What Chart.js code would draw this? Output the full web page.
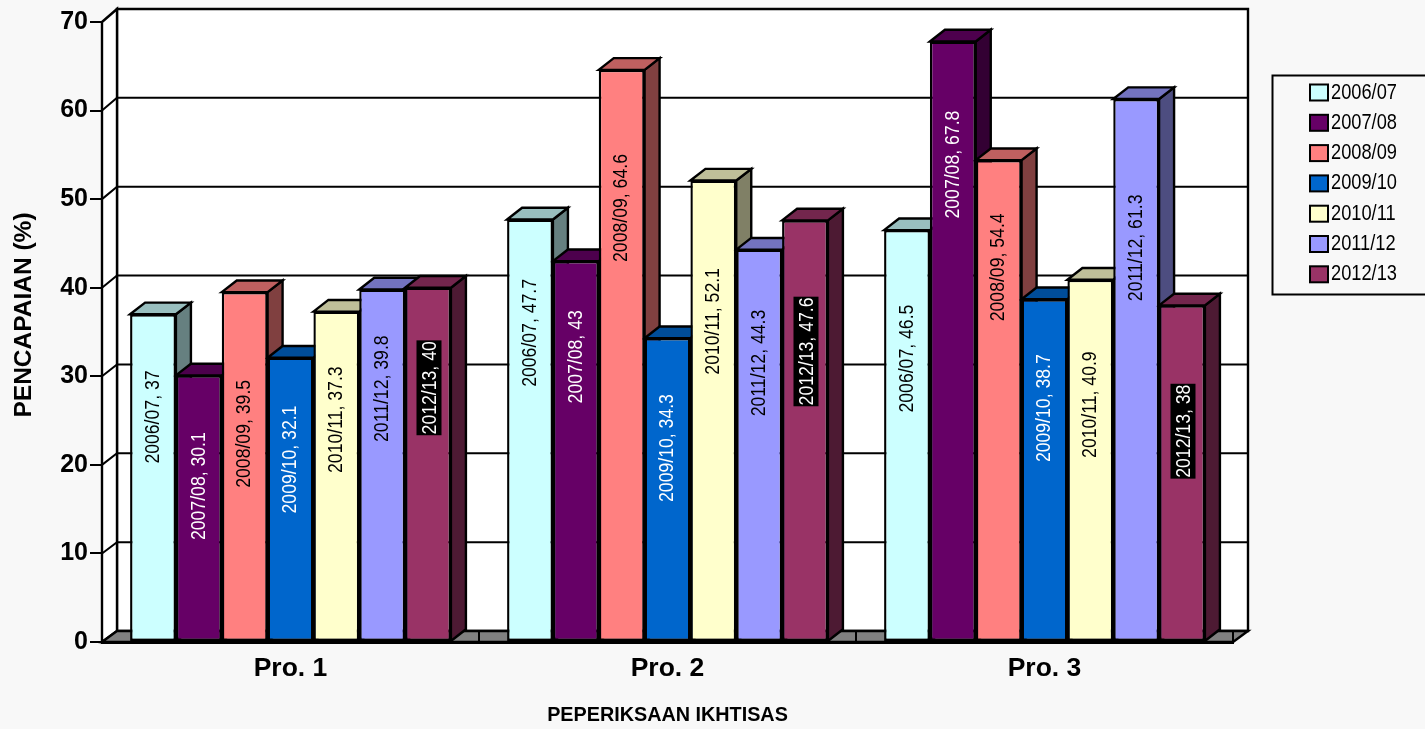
<!DOCTYPE html>
<html>
<head>
<meta charset="utf-8">
<style>
  html, body { margin: 0; padding: 0; background: #F8F8F8; overflow: hidden; }
  canvas { display: block; }
</style>
<script src="https://cdn.jsdelivr.net/npm/chart.js@4"></script>
</head>
<body>
<canvas id="chart" width="1425" height="729"></canvas>
<script>
const categories = ['Pro. 1', 'Pro. 2', 'Pro. 3'];
const seriesNames = ['2006/07', '2007/08', '2008/09', '2009/10', '2010/11', '2011/12', '2012/13'];

const v200607 = [37, 47.7, 46.5];
const v200708 = [30.1, 43, 67.8];
const v200809 = [39.5, 64.6, 54.4];
const v200910 = [32.1, 34.3, 38.7];
const v201011 = [37.3, 52.1, 40.9];
const v201112 = [39.8, 44.3, 61.3];
const v201213 = [40, 47.6, 38];
const seriesValues = [v200607, v200708, v200809, v200910, v201011, v201112, v201213];

const seriesColors = ['#CCFFFF', '#660066', '#FF8080', '#0066CC', '#FFFFCC', '#9999FF', '#993366'];
const labelColors = ['#000', '#fff', '#000', '#fff', '#000', '#000', '#fff'];
const labelBacks = [null, null, null, null, null, null, '#000'];

// Height on the value axis where each rotated data label is centred.
const labelHeights = [
  [25.4, 34.9, 32.0],
  [17.6, 32.2, 53.9],
  [23.5, 49.0, 42.3],
  [20.6, 21.9, 26.4],
  [25.1, 36.2, 26.8],
  [28.6, 31.5, 44.5],
  [28.7, 32.8, 23.8]
];

const depthX = 15;
const depthY = 11.7;
const SANS = '"Liberation Sans", Arial, sans-serif';
const NARROW_SCALE = 0.84;

function shade(hex, k) {
  const n = parseInt(hex.slice(1), 16);
  const c = s => Math.round(((n >> s) & 255) * k);
  return `rgb(${c(16)},${c(8)},${c(0)})`;
}

function poly(ctx, pts, fill) {
  ctx.beginPath();
  pts.forEach((p, i) => i ? ctx.lineTo(p[0], p[1]) : ctx.moveTo(p[0], p[1]));
  ctx.closePath();
  if (fill) { ctx.fillStyle = fill; ctx.fill(); }
  ctx.strokeStyle = '#000';
  ctx.lineWidth = 2.4;
  ctx.lineJoin = 'miter';
  ctx.stroke();
}

function barBox(bar) {
  const p = bar.getProps(['x', 'y', 'base', 'width'], true);
  return { l: p.x - p.width / 2, r: p.x + p.width / 2, y: p.y, base: p.base };
}

// Back wall, side wall, floor, gridlines, then the bars' side and top faces.
const wallsPlugin = {
  id: 'walls',
  beforeDatasetsDraw(chart) {
    const { ctx, chartArea: a, scales: { y, x } } = chart;
    ctx.save();
    const top = y.getPixelForValue(70), zero = y.getPixelForValue(0);
    poly(ctx, [[a.left + depthX, top - 13], [a.right + depthX, top - 13], [a.right + depthX, zero - 11], [a.left + depthX, zero - 11]], '#fff');
    poly(ctx, [[a.left, top], [a.left + depthX, top - 13], [a.left + depthX, zero - 11], [a.left, zero]], '#fff');
    poly(ctx, [[a.left, zero], [a.left + depthX, zero - 11], [a.right + depthX, zero - 11], [a.right, zero]], '#808080');
    ctx.lineWidth = 2;
    ctx.strokeStyle = '#000';
    y.ticks.forEach(t => {
      if (t.value === 0 || t.value === 70) return;
      const py = y.getPixelForValue(t.value);
      const back = py - 11 - 2 * t.value / 70;
      ctx.beginPath();
      ctx.moveTo(a.left, py);
      ctx.lineTo(a.left + depthX, back);
      ctx.lineTo(a.right + depthX, back);
      ctx.stroke();
    });
    // Category dividers on the floor.
    for (let i = 1; i <= categories.length; i++) {
      const px = x.getPixelForValue(i - 0.5);
      ctx.beginPath();
      ctx.moveTo(px, zero);
      ctx.lineTo(px, zero - 11);
      ctx.stroke();
    }

    // All side faces first, then all tops: a top sits over its left neighbour's side.
    const metas = seriesNames.map((_, i) => chart.getDatasetMeta(i));
    metas.forEach((meta, i) => meta.data.forEach(bar => {
      const b = barBox(bar);
      poly(ctx, [[b.r, b.y], [b.r + depthX, b.y - depthY], [b.r + depthX, b.base - depthY], [b.r, b.base]], shade(seriesColors[i], 0.5));
    }));
    metas.forEach((meta, i) => meta.data.forEach(bar => {
      const b = barBox(bar);
      poly(ctx, [[b.l, b.y], [b.l + depthX, b.y - depthY], [b.r + depthX, b.y - depthY], [b.r, b.y]], shade(seriesColors[i], 0.75));
    }));
    ctx.restore();
  }
};

// Rotated "series, value" labels, plus the axis caption and legend panel.
const labelsPlugin = {
  id: 'annotations',
  afterDatasetsDraw(chart) {
    const { ctx, scales: { y } } = chart;
    ctx.save();
    ctx.font = `21px ${SANS}`;
    ctx.textAlign = 'center';
    ctx.textBaseline = 'middle';
    chart.data.datasets.forEach((ds, i) => {
      chart.getDatasetMeta(i).data.forEach((bar, j) => {
        const text = `${ds.label}, ${ds.data[j]}`;
        const cy = y.getPixelForValue(labelHeights[i][j]);
        ctx.save();
        ctx.translate(bar.x + (labelBacks[i] ? 1 : -1), cy);
        ctx.rotate(-Math.PI / 2);
        ctx.scale(NARROW_SCALE, 1);
        if (labelBacks[i]) {
          const w = ctx.measureText(text).width + 2;
          ctx.fillStyle = labelBacks[i];
          ctx.fillRect(-w / 2, -12.5, w, 25);
        }
        ctx.fillStyle = labelColors[i];
        ctx.fillText(text, 0, 1);
        ctx.restore();
      });
    });
    ctx.restore();
  },
  afterDraw(chart) {
    const { ctx } = chart;
    ctx.save();
    // Axis caption
    ctx.translate(24, 315);
    ctx.rotate(-Math.PI / 2);
    ctx.font = `bold 24.5px ${SANS}`;
    ctx.fillStyle = '#000';
    ctx.textAlign = 'center';
    ctx.textBaseline = 'middle';
    ctx.fillText('PENCAPAIAN (%)', 0, 0);
    ctx.restore();

    // Legend panel
    ctx.save();
    ctx.strokeStyle = '#000';
    ctx.lineWidth = 2;
    ctx.beginPath();
    ctx.moveTo(1430, 75.5);
    ctx.lineTo(1272.5, 75.5);
    ctx.lineTo(1272.5, 294.5);
    ctx.lineTo(1430, 294.5);
    ctx.stroke();
    ctx.textBaseline = 'middle';
    seriesNames.forEach((name, i) => {
      const cy = 92.5 + i * 30.3;
      ctx.fillStyle = seriesColors[i];
      ctx.fillRect(1310, cy - 8, 18, 16);
      ctx.strokeRect(1310, cy - 8, 18, 16);
      ctx.fillStyle = '#000';
      ctx.save();
      ctx.font = `22px ${SANS}`;
      ctx.translate(1331, cy);
      ctx.scale(0.83, 1);
      ctx.fillText(name, 0, 0);
      ctx.restore();
    });
    ctx.restore();
  }
};

new Chart(document.getElementById('chart'), {
  type: 'bar',
  data: {
    labels: categories,
    datasets: seriesNames.map((name, i) => ({
      label: name,
      data: seriesValues[i],
      backgroundColor: seriesColors[i],
      borderColor: '#000',
      borderWidth: 2.4,
      borderSkipped: false
    }))
  },
  options: {
    responsive: false,
    animation: false,
    events: [],
    layout: { padding: { left: 0, top: 22, right: 192, bottom: 0 } },
    categoryPercentage: 0.851,
    barPercentage: 1,
    plugins: { legend: { display: false }, tooltip: { enabled: false }, title: { display: false } },
    scales: {
      x: {
        grid: { display: true, drawOnChartArea: false, drawTicks: false },
        border: { color: '#000', width: 3 },
        ticks: { color: '#000', font: { family: SANS, size: 26.5, weight: 'bold' }, padding: 11 },
        title: {
          display: true,
          text: 'PEPERIKSAAN IKHTISAS',
          color: '#000',
          font: { family: SANS, size: 19.8, weight: 'bold' },
          padding: { top: 0, bottom: 1.5 }
        },
        afterFit(s) { s.height = 87; }
      },
      y: {
        min: 0,
        max: 70,
        ticks: { stepSize: 10, color: '#000', font: { family: SANS, size: 25, weight: 'bold' }, padding: 2 },
        grid: { drawOnChartArea: false, drawTicks: true, tickLength: 12, color: '#000', lineWidth: 2 },
        border: { color: '#000', width: 2 },
        afterFit(s) { s.width = 102; }
      }
    }
  },
  plugins: [wallsPlugin, labelsPlugin]
});
</script>
</body>
</html>
